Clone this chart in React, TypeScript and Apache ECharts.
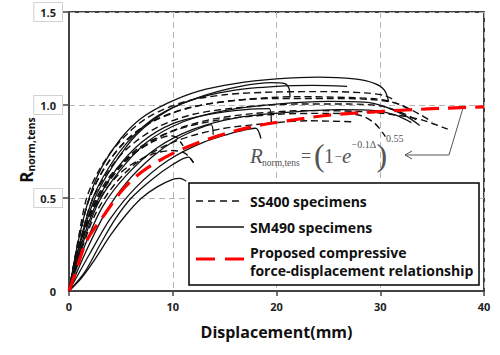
import React, { useEffect, useRef } from "react";
import * as echarts from "echarts";

type Pt = [number, number];

// SS400 specimens (dashed black)
const ss400A: Pt[] = [[0,0],[0.8,0.25],[1.7,0.5],[3,0.66],[5,0.81],[7.5,0.93],[11,1.015],[15,1.055],[20,1.07],[25,1.072],[28.5,1.065],[30.5,1.05],[31.5,1.02]];
const ss400B: Pt[] = [[0,0],[0.9,0.26],[1.9,0.49],[3.4,0.66],[5.5,0.81],[8,0.91],[12,0.99],[17,1.03],[22,1.045],[27,1.04],[30,1.03],[32,1.0],[33.8,0.95],[35,0.91]];
const ss400C: Pt[] = [[0,0],[1,0.25],[2.1,0.47],[3.6,0.63],[5.5,0.76],[8.5,0.88],[12,0.95],[17,0.99],[22,1.005],[27,1.005],[30,0.995],[32,0.96],[33.5,0.92]];
const ss400D: Pt[] = [[0,0],[1.1,0.24],[2.3,0.44],[4,0.6],[6.3,0.74],[9.5,0.85],[13.5,0.92],[18,0.955],[23,0.97],[28,0.965],[31,0.95],[34,0.92],[36.5,0.87]];
const ss400E: Pt[] = [[0,0],[1.2,0.22],[2.6,0.42],[4.5,0.58],[7,0.71],[10.5,0.81],[14.5,0.87],[19,0.9],[23,0.915],[27.4,0.91]];
const ss400F: Pt[] = [[0,0],[1,0.23],[2.2,0.44],[4,0.61],[6.5,0.76],[10,0.86],[14.5,0.92],[20,0.95],[25,0.955],[28,0.945],[29.5,0.9],[30.5,0.83]];
const ss400G: Pt[] = [[0,0],[0.9,0.2],[2,0.39],[3.6,0.55],[5.5,0.66],[8,0.735],[10,0.755],[11.2,0.74],[12,0.69]];
const ss400H: Pt[] = [[0,0],[0.9,0.22],[2,0.42],[3.7,0.6],[5.8,0.72],[8,0.8],[9.8,0.835],[10.4,0.825],[11,0.78]];
const ss400I: Pt[] = [[0,0],[0.85,0.25],[1.8,0.47],[3.2,0.64],[5.2,0.79],[8,0.91],[11.5,0.985],[16,1.025],[20,1.035],[25,1.035],[29,1.03],[31.5,1.01],[33,0.97]];

// SM490 specimens (solid black)
const sm490A: Pt[] = [[0,0],[0.9,0.27],[2,0.51],[3.2,0.67],[5,0.82],[7,0.93],[9.5,1.01],[12.5,1.075],[16,1.115],[20,1.14],[24,1.15],[27.5,1.14],[29.5,1.115],[30.4,1.08],[30.8,1.02]];
const sm490B: Pt[] = [[0,0],[1,0.25],[2.3,0.5],[3.8,0.66],[5.8,0.81],[8.5,0.94],[12,1.03],[16,1.08],[20,1.1],[23.5,1.105],[26.8,1.1]];
const sm490C: Pt[] = [[0,0],[1.1,0.26],[2.5,0.5],[4.2,0.67],[6.5,0.84],[9.5,0.97],[13,1.05],[16.5,1.1],[19.5,1.12],[20.8,1.115],[21.2,1.09],[21.3,1.04]];
const sm490D: Pt[] = [[0,0],[1.3,0.25],[2.8,0.47],[4.8,0.64],[7.5,0.8],[11,0.91],[15,0.97],[20,1.005],[25,1.02],[28.5,1.015],[30.5,0.99],[32.5,0.94],[33.8,0.89]];
const sm490E: Pt[] = [[0,0],[1.5,0.24],[3.2,0.45],[5.5,0.62],[8.5,0.77],[12,0.87],[16,0.93],[21,0.96],[26,0.975],[29.5,0.97],[31.5,0.945],[33,0.905]];
const sm490F: Pt[] = [[0,0],[1.7,0.22],[3.5,0.42],[5.5,0.58],[8,0.72],[10.5,0.82],[12.8,0.88],[13.7,0.895],[13.9,0.84]];
const sm490G: Pt[] = [[0,0],[2,0.2],[4,0.39],[6.5,0.56],[9.5,0.7],[13,0.8],[16.5,0.86],[18,0.875],[18.5,0.82]];
const sm490H: Pt[] = [[0,0],[1.2,0.07],[2.5,0.17],[4,0.3],[5.5,0.41],[7,0.5],[8.5,0.56],[10,0.6],[10.7,0.605],[11.3,0.59]];
const sm490I: Pt[] = [[0,0],[1.5,0.1],[3,0.25],[4.5,0.39],[6,0.5],[8,0.6],[10,0.68],[11.5,0.72],[12,0.69]];
const sm490J: Pt[] = [[0,0],[1.3,0.27],[2.7,0.48],[4.5,0.65],[7,0.8],[10,0.9],[13.5,0.95],[17,0.975],[19.3,0.98],[19.5,0.9]];

// Proposed relationship (red dashed)
const proposed: Pt[] = [[0,0],[0.8,0.13],[1.7,0.27],[3.4,0.41],[5.1,0.54],[7,0.64],[10,0.74],[13.6,0.82],[17.4,0.88],[21,0.915],[25,0.945],[30,0.965],[35,0.98],[40,0.99]];

const ss400Curves = [ss400A, ss400B, ss400C, ss400D, ss400E, ss400F, ss400G, ss400H, ss400I];
const sm490Curves = [sm490A, sm490B, sm490C, sm490D, sm490E, sm490F, sm490G, sm490H, sm490I, sm490J];

const yTickLabels: Record<string, string> = { "0": "0", "0.5": "0.5", "1": "1.0", "1.5": "1.5" };
const xTickLabels: Record<string, string> = { "0": "0", "10": "10", "20": "20", "30": "30", "40": "40" };

const legendLabels = ["SS400 specimens", "SM490 specimens", "Proposed compressive", "force-displacement relationship"];

const SANS = '"Open Sans", "Noto Sans", sans-serif';
const SERIF = '"Liberation Serif", "DejaVu Serif", serif';

export default function App() {
  const ref = useRef<HTMLDivElement>(null);
  useEffect(() => {
    const chart = echarts.init(ref.current!, null, { renderer: "svg" });
    const series: any[] = [];
    ss400Curves.forEach((c) =>
      series.push({
        type: "line", name: legendLabels[0], data: c, smooth: 0.3, symbol: "none", z: 3,
        lineStyle: { color: "#111", width: 1.4, type: [7, 4] },
      })
    );
    sm490Curves.forEach((c) =>
      series.push({
        type: "line", name: legendLabels[1], data: c, smooth: 0.3, symbol: "none", z: 3,
        lineStyle: { color: "#111", width: 1.3, type: "solid" },
      })
    );
    series.push({
      type: "line", name: "Proposed", data: proposed, smooth: 0.3, symbol: "none", z: 5,
      lineStyle: { color: "#ff0000", width: 3.2, type: [18, 9] },
    });

    const gray = "#555";
    const fc = "#555";
    const t = (x: number, y: number, text: string, fontSize: number, extra: any = {}) => ({
      type: "text", z: 60, x, y,
      style: { text, fontSize, fontFamily: SERIF, fill: fc, align: "left", verticalAlign: "middle", ...extra },
    });
    const legendText = (y: number, text: string) => ({
      type: "text", z: 101, x: 250, y,
      style: { text, fontSize: 14, fontWeight: "bold", fontFamily: SANS, fill: "#111", align: "left", verticalAlign: "middle" },
    });
    const graphic: any[] = [
      // y-axis name (rotated)
      {
        type: "text", x: 26, y: 150, rotation: Math.PI / 2, z: 50,
        style: {
          text: "{r|R}{s|norm,tens}", align: "center", verticalAlign: "middle",
          rich: {
            r: { fontSize: 17, fontWeight: "bold", fontFamily: SANS, fill: "#111", lineHeight: 20 },
            s: { fontSize: 10.5, fontWeight: "bold", fontFamily: SANS, fill: "#111", lineHeight: 10, verticalAlign: "bottom" },
          },
        },
      },
      // legend box
      { type: "rect", z: 100, shape: { x: 189, y: 183, width: 290, height: 102 }, style: { fill: "#fff", stroke: "#000", lineWidth: 1.5 } },
      { type: "line", z: 101, shape: { x1: 196, y1: 201, x2: 244, y2: 201 }, style: { stroke: "#111", lineWidth: 1.5, lineDash: [7, 5] } },
      legendText(201, legendLabels[0]),
      { type: "line", z: 101, shape: { x1: 196, y1: 227, x2: 244, y2: 227 }, style: { stroke: "#111", lineWidth: 1.5 } },
      legendText(227, legendLabels[1]),
      { type: "line", z: 101, shape: { x1: 196, y1: 259, x2: 244, y2: 259 }, style: { stroke: "#ff0000", lineWidth: 3, lineDash: [19, 10] } },
      legendText(252, legendLabels[2]),
      legendText(270, legendLabels[3]),
      // formula
      t(250, 156, "R", 21, { fontStyle: "italic" }),
      t(262, 163, "norm,tens", 9.5),
      t(301, 156, "=", 18),
      t(314, 155, "(", 32),
      t(324, 156, "1", 20),
      t(334.5, 156, "\u2212", 13),
      t(342, 156, "e", 21, { fontStyle: "italic" }),
      t(351.5, 144, "\u22120.1\u0394", 10),
      t(376.5, 155, ")", 32),
      t(386, 138, "0.55", 10),
      // arrow
      { type: "polyline", z: 60, shape: { points: [[463, 108], [449, 155], [405, 155]] }, style: { stroke: gray, lineWidth: 1, fill: "none" } },
      { type: "polyline", z: 60, shape: { points: [[412, 151], [405, 155], [412, 159]] }, style: { stroke: gray, lineWidth: 1, fill: "none" } },
    ];

    const yLabelFont = { fontSize: 11, fontWeight: "bold" as const, fontFamily: SANS, color: "#222" };

    chart.setOption({
      animation: false,
      backgroundColor: "#fff",
      grid: { left: 69, right: 16, top: 12, bottom: 64, show: true, borderColor: "#000", borderWidth: 1.5, backgroundColor: "transparent" },
      xAxis: {
        type: "value", min: 0, max: 40, interval: 10,
        name: "Displacement(mm)", nameLocation: "middle", nameGap: 33,
        nameTextStyle: { fontSize: 16, fontWeight: "bold", fontFamily: SANS, color: "#111" },
        axisLine: { show: true, lineStyle: { color: "#444", width: 2 } },
        axisTick: { show: true, length: 5, inside: false, lineStyle: { color: "#444", width: 1.5 } },
        axisLabel: { fontSize: 11, fontWeight: "bold", fontFamily: SANS, color: "#222", margin: 10, formatter: (v: number) => xTickLabels[String(v)] ?? String(v) },
        splitLine: { show: true, lineStyle: { color: "#b5b5b5", width: 1, type: [6, 4] } },
      },
      yAxis: [
        {
          type: "value", min: 0, max: 1.5, interval: 0.5, position: "left",
          axisLine: { show: true, lineStyle: { color: "#444", width: 2 } },
          axisTick: { show: true, length: 6, inside: false, lineStyle: { color: "#444", width: 1.5 } },
          axisLabel: {
            ...yLabelFont,
            margin: 7,
            showMinLabel: false,
            formatter: (v: number) => (v === 0 ? "" : yTickLabels[String(v)] ?? String(v)),
            borderColor: "#d2d2d2", borderWidth: 1, padding: [4, 6, 3, 6], backgroundColor: "#fff",
          },
          splitLine: { show: true, lineStyle: { color: "#b5b5b5", width: 1, type: [6, 4] } },
        },
        {
          type: "value", min: 0, max: 1.5, interval: 0.5, position: "left",
          axisLine: { show: false }, axisTick: { show: false }, splitLine: { show: false },
          axisLabel: {
            ...yLabelFont,
            margin: 13,
            formatter: (v: number) => (v === 0 ? yTickLabels["0"] : ""),
          },
        },
      ],
      series,
      graphic,
    });
    return () => chart.dispose();
  }, []);
  return <div ref={ref} style={{ position: "absolute", left: 0, top: 0, width: 500, height: 355 }} />;
}
